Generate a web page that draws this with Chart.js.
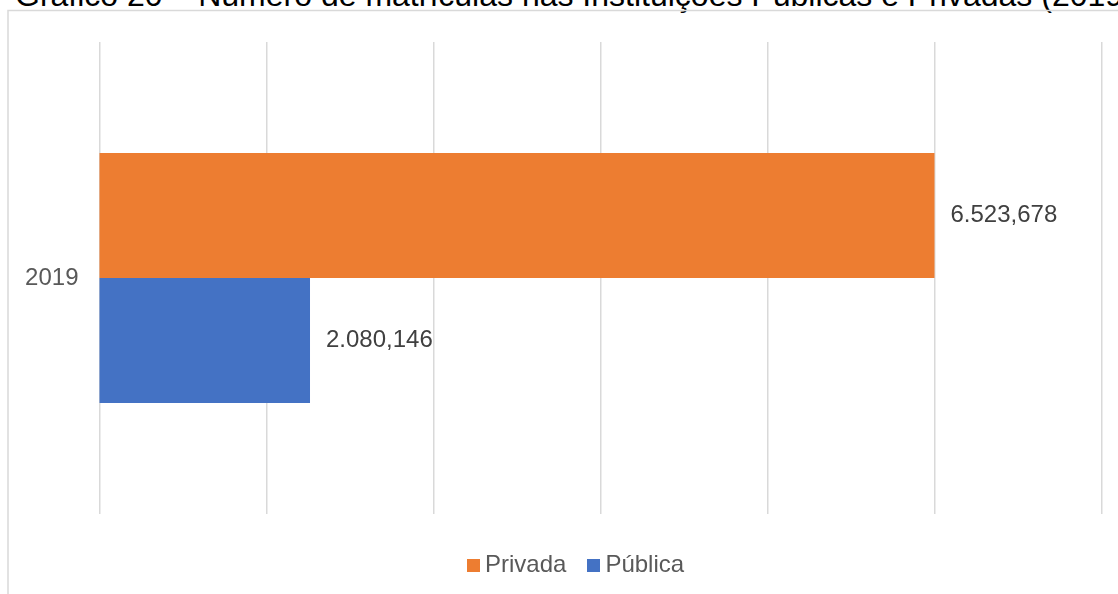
<!DOCTYPE html>
<html lang="pt-BR">
<head>
<meta charset="utf-8">
<title>Matrículas 2019</title>
<script src="https://cdn.jsdelivr.net/npm/chart.js@4.4.1/dist/chart.umd.min.js"></script>
<style>
  html, body { margin: 0; padding: 0; background: #fff; overflow: hidden; }
  #wrap { position: relative; width: 1118px; height: 594px; overflow: hidden; }
  #chart { position: absolute; left: 0; top: 0; }
  #title {
    position: absolute; left: 15px; top: -21px;
    font: 32px/32px "Liberation Sans", Arial, sans-serif; color: #000;
    white-space: nowrap;
  }
  #legend {
    position: absolute; left: 467px; top: 552px; height: 24px;
    display: flex; align-items: center;
    font: 24px/24px "Liberation Sans", Arial, sans-serif; color: #595959;
    white-space: nowrap;
  }
  #legend .item { display: flex; align-items: center; margin-right: 21px; }
  #legend .box { width: 13px; height: 13px; margin-right: 5px; margin-top: 2px; }
</style>
</head>
<body>
<div id="wrap">
  <div id="title">Gráfico 20 – Número de matrículas nas Instituições Públicas e Privadas (2019)</div>
  <canvas id="chart" width="1118" height="594"></canvas>
  <div id="legend"></div>
</div>
<script>
// Enrolments in 2019 (thousands), by type of institution
const categories = ['2019'];
const seriesNames = ['Privada', 'Pública'];
const privada = [6523.678];
const publica = [2080.146];

const seriesColors = ['#ED7D31', '#4472C4'];

// value axis bounds (tick labels are hidden, only the six grid intervals show)
const axisMin = 582.3;
const axisMax = 7712.0;
const gridIntervals = 6;

const FONT = '"Liberation Sans", Arial, sans-serif';

function formatBR(v) {
  const parts = v.toFixed(3).split('.');
  const intPart = parts[0].replace(/\B(?=(\d{3})+(?!\d))/g, '.');
  return intPart + ',' + parts[1];
}

// outer frame of the chart object
const framePlugin = {
  id: 'frame',
  beforeDraw(chart) {
    const ctx = chart.ctx;
    ctx.save();
    ctx.strokeStyle = '#d9d9d9';
    ctx.lineWidth = 1.5;
    ctx.strokeRect(8, 10.5, 2000, 2000);
    ctx.restore();
  }
};

// value labels to the right of each bar
const valueLabels = {
  id: 'valueLabels',
  afterDatasetsDraw(chart) {
    const ctx = chart.ctx;
    ctx.save();
    ctx.font = '24px ' + FONT;
    ctx.fillStyle = '#404040';
    ctx.textAlign = 'left';
    ctx.textBaseline = 'middle';
    chart.data.datasets.forEach((ds, di) => {
      chart.getDatasetMeta(di).data.forEach((bar, i) => {
        ctx.fillText(formatBR(ds.data[i]), bar.x + 16, bar.y);
      });
    });
    ctx.restore();
  }
};

// legend built from the chart's datasets
const htmlLegend = {
  id: 'htmlLegend',
  afterUpdate(chart) {
    const el = document.getElementById('legend');
    el.innerHTML = '';
    chart.data.datasets.forEach(ds => {
      const item = document.createElement('span');
      item.className = 'item';
      const box = document.createElement('span');
      box.className = 'box';
      box.style.background = ds.backgroundColor;
      const txt = document.createElement('span');
      txt.textContent = ds.label;
      item.appendChild(box);
      item.appendChild(txt);
      el.appendChild(item);
    });
  }
};

new Chart(document.getElementById('chart'), {
  type: 'bar',
  data: {
    labels: categories,
    datasets: [
      { label: seriesNames[0], data: privada, backgroundColor: seriesColors[0] },
      { label: seriesNames[1], data: publica, backgroundColor: seriesColors[1] }
    ]
  },
  options: {
    indexAxis: 'y',
    responsive: false,
    animation: false,
    events: [],
    layout: { padding: { left: 0, right: 16.5, top: 42, bottom: 80 } },
    datasets: { bar: { categoryPercentage: 0.53, barPercentage: 1, borderWidth: 0 } },
    plugins: {
      legend: { display: false },
      title: { display: false },
      tooltip: { enabled: false }
    },
    scales: {
      x: {
        type: 'linear',
        min: axisMin,
        max: axisMax,
        afterBuildTicks(scale) {
          const step = (axisMax - axisMin) / gridIntervals;
          const t = [];
          for (let i = 0; i <= gridIntervals; i++) t.push({ value: axisMin + i * step });
          scale.ticks = t;
        },
        afterFit(scale) { scale.height = 0; },
        ticks: { display: false },
        grid: { color: '#d9d9d9', lineWidth: 1.5, drawTicks: false },
        border: { display: false }
      },
      y: {
        type: 'category',
        afterFit(scale) { scale.width = 99.5; },
        ticks: { font: { family: FONT, size: 24 }, color: '#595959', padding: 21 },
        grid: { display: false, drawTicks: false },
        border: { display: false }
      }
    }
  },
  plugins: [framePlugin, valueLabels, htmlLegend]
});
</script>
</body>
</html>
